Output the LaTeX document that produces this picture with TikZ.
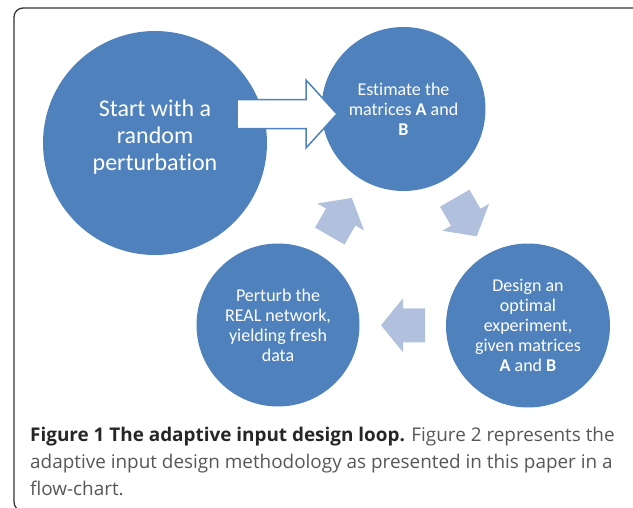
\documentclass[tikz,border=0pt]{standalone}
\usepackage{fontspec}
\setmainfont{Open Sans}
\newfontfamily\calfont[Ligatures=CommonOff]{Carlito}
\usepackage{tikz}
\usetikzlibrary{calc}
\definecolor{discblue}{HTML}{4F81BD}
\definecolor{paleblue}{RGB}{177,193,221}
\definecolor{framegray}{HTML}{333333}
\definecolor{capgray}{HTML}{575757}
\tikzset{
  disc/.style={circle,fill=discblue,inner sep=0pt,text=white,align=center,font=\calfont\fontsize{18}{20}\selectfont},
  smalldisc/.style={disc,minimum size=164pt},
  bigdisc/.style={disc,minimum size=224pt},
  bigtext/.style={text=white,align=center,inner sep=0pt,font=\calfont\fontsize{24}{27}\selectfont},
  looparrow/.pic={\fill[paleblue](-22,-17)--(0,-17)--(0,-27)--(22,0)--(0,27)--(0,17)--(-22,17)--cycle;},
  startarrow/.pic={\draw[discblue,line width=1.5pt,fill=white](-50,-14.5)--(19,-14.5)--(19,-34)--(50,0)--(19,34)--(19,14.5)--(-50,14.5)--cycle;},
  capline/.style={anchor=base west,inner sep=0pt,text=capgray,font=\fontsize{18.9}{27}\selectfont}
}

\begin{document}
\begin{tikzpicture}[x=1pt,y=-1pt]
            \useasboundingbox (0,0) rectangle (633,507);
            \clip (0,0) rectangle (633,507);
            \draw[framegray,line width=1.3pt,rounded corners=9pt](14,8) rectangle (700,511);
            \node[bigdisc] (start) at (155,143) {};
            \node[bigtext] (starttxt) at ([yshift=6pt]start.center) {Start with a\\random\\perturbation};
            \node[smalldisc] (est) at (403.5,109) {Estimate the\\matrices \textbf{A} and\\\textbf{B}};
            \node[smalldisc] (des) at (528,325.5) {Design an\\optimal\\experiment,\\given matrices\\\textbf{A} and \textbf{B}};
            \node[smalldisc,minimum size=163pt] (per) at (278,325) {Perturb the\\REAL network,\\yielding fresh\\data};
            \pic at (287,114) {startarrow};
            \pic[rotate=-60] at ($(est)!0.5!(des)$) {looparrow};
            \pic[rotate=180] at ($(des)!0.5!(per)$) {looparrow};
            \pic[rotate=60] at ($(per)!0.5!(est)$) {looparrow};
            \node[capline] (cap1) at (30,441) {{\bfseries\color{black!85}Figure 1 The adaptive input design loop.} Figure 2 represents the};
            \node[capline] (cap2) at (30,468) {adaptive input design methodology as presented in this paper in a};
            \node[capline] (cap3) at (30,495) {flow-chart.};
        \end{tikzpicture}
\end{document}
